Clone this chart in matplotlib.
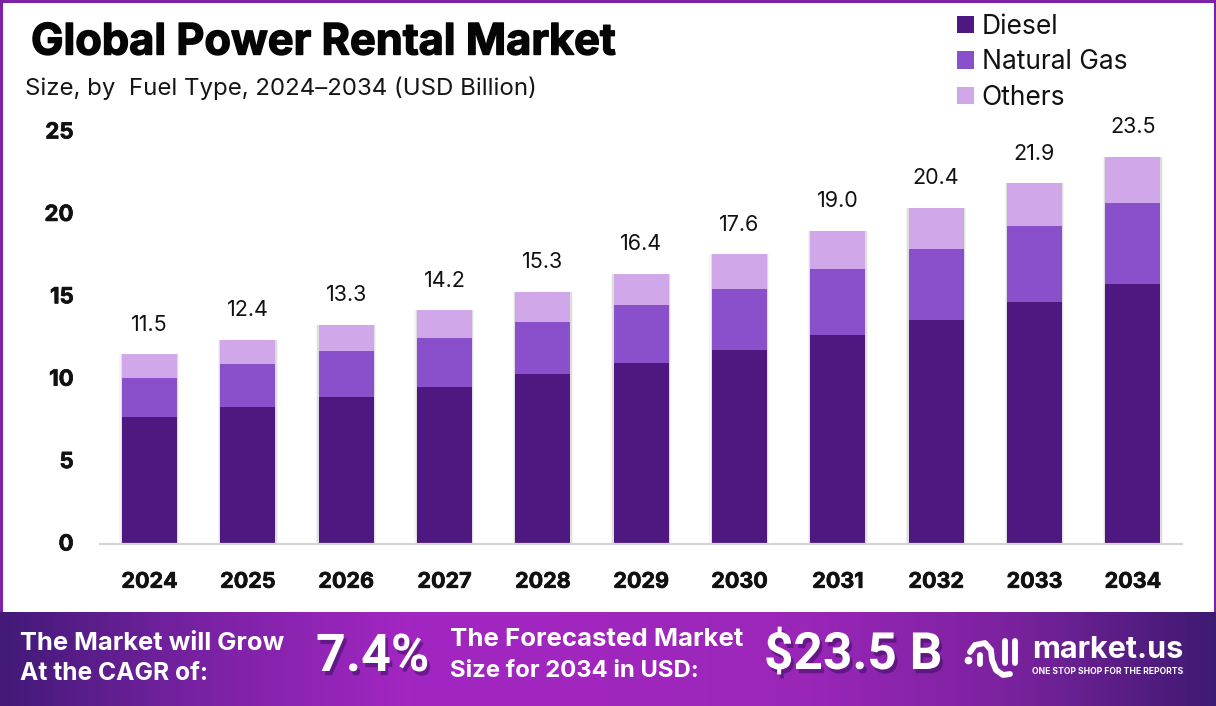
import numpy as np
import matplotlib
matplotlib.use('Agg')
import matplotlib.pyplot as plt
import matplotlib.patheffects as pe
from matplotlib.colors import LinearSegmentedColormap
from matplotlib.patches import Rectangle
from matplotlib.transforms import ScaledTranslation

years = ['2024', '2025', '2026', '2027', '2028', '2029', '2030', '2031', '2032', '2033', '2034']
totals = [11.5, 12.4, 13.3, 14.2, 15.3, 16.4, 17.6, 19.0, 20.4, 21.9, 23.5]
diesel = [7.7, 8.3, 8.9, 9.5, 10.3, 11.0, 11.8, 12.7, 13.6, 14.7, 15.8]
natural_gas = [2.4, 2.6, 2.8, 3.0, 3.2, 3.5, 3.7, 4.0, 4.3, 4.6, 4.9]
others = [1.4, 1.5, 1.6, 1.7, 1.8, 1.9, 2.1, 2.3, 2.5, 2.6, 2.8]
y_ticks = [0, 5, 10, 15, 20, 25]

W, H = 1216, 706
plt.rcParams['font.family'] = ['Inter', 'DejaVu Sans']

fig = plt.figure(figsize=(W / 100, H / 100), dpi=100, facecolor='white')

# stroke makes the bold text as heavy as the reference
heavy = [pe.withStroke(linewidth=0.5, foreground='#111111')]

# bar chart, axes placed in pixels
ax = fig.add_axes([100 / W, 1 - 544 / H, 1082 / W, 412 / H])
x = np.arange(len(years))
d = np.array(diesel)
n = np.array(natural_gas)
o = np.array(others)

# soft shadow on the bar sides
ax.bar(x, d + n + o, width=0.61, color='#000000', alpha=0.04, zorder=1)
ax.bar(x, d + n + o, width=0.585, color='#000000', alpha=0.09, zorder=1)
ax.bar(x, d, width=0.56, color='#4e1880', label='Diesel', zorder=2)
ax.bar(x, n, width=0.56, bottom=d, color='#8a50cb', label='Natural Gas', zorder=2)
ax.bar(x, o, width=0.56, bottom=d + n, color='#d0a8ea', label='Others', zorder=2)

for xi, top, t in zip(x, d + n + o, totals):
    ax.annotate(f'{t:.1f}', (xi, top), xytext=(0, 14), textcoords='offset points',
                ha='center', va='bottom', fontsize=15.5, color='#111111', annotation_clip=False)

ax.set_xlim(-0.503, 10.5)
ax.set_ylim(0, 25)
ax.set_xticks(x, years, fontsize=15.5, fontweight='bold', color='#111111')
ax.set_yticks(y_ticks, [str(v) for v in y_ticks], fontsize=16, fontweight='bold', color='#111111')
ax.tick_params(length=0)
ax.tick_params(axis='x', pad=20)
ax.tick_params(axis='y', pad=19)
for label in ax.get_xticklabels() + ax.get_yticklabels():
    label.set_path_effects(heavy)
for label in ax.get_yticklabels():
    label.set_transform(label.get_transform() + ScaledTranslation(0, 1.5 / 100, fig.dpi_scale_trans))
for s in ['top', 'right', 'left']:
    ax.spines[s].set_visible(False)
ax.spines['bottom'].set_color('#d4d4d4')
ax.spines['bottom'].set_linewidth(1.6)

handles, labels = ax.get_legend_handles_labels()
fig.legend(handles, labels, loc='upper left', bbox_to_anchor=(949 / W, 1 - 6 / H), frameon=False,
           fontsize=19, handlelength=0.64, handleheight=0.64, handletextpad=0.3,
           labelspacing=0.36, labelcolor='#111111', borderpad=0.3, borderaxespad=0)

# overlay in pixel coordinates for titles, frame and banner
ov = fig.add_axes([0, 0, 1, 1], zorder=5)
ov.set_xlim(0, W)
ov.set_ylim(H, 0)
ov.axis('off')
ov.patch.set_alpha(0)

ov.add_patch(Rectangle((1, 1), W - 2, H - 2, fill=False, ec='#7b22a6', lw=2.2))

title = ov.text(31, 43, 'Global Power Rental Market', fontsize=31.2, fontweight='bold', color='#050505', va='center')
title.set_path_effects([pe.withStroke(linewidth=1.0, foreground='#050505')])
ov.text(25, 88, 'Size, by  Fuel Type, 2024\u20132034 (USD Billion)', fontsize=17.3, color='#151515', va='center')

band = LinearSegmentedColormap.from_list('band', ['#431a78', '#7a22a4', '#a226c2', '#a026be', '#9a26b8', '#7a229e', '#3f1a72'])
ov.imshow(np.linspace(0, 1, 400).reshape(1, -1), cmap=band, extent=(0, W, 706, 612), aspect='auto', zorder=2)
ov.set_xlim(0, W)
ov.set_ylim(H, 0)


def banner_text(px, py, s, size, shade=False, family=None):
    t = ov.text(px, py, s, fontsize=size, fontweight='bold', color='white', va='center', zorder=4)
    if family:
        t.set_family(family)
    if shade:
        t.set_path_effects([pe.withSimplePatchShadow(offset=(2, -3), shadow_rgbFace='#2a0a50', alpha=0.45)])
    return t


banner_text(20, 643, 'The Market will Grow', 18.4)
banner_text(20, 674, 'At the CAGR of:', 17.7)
banner_text(316, 657, '7.4%', 37.5, shade=True, family='Roboto')
banner_text(450, 640, 'The Forecasted Market', 18.6)
banner_text(450, 671, 'Size for 2034 in USD:', 17.2)
banner_text(764, 655, '$23.5 B', 37, shade=True, family='Roboto')

# logo mark
for path_x, path_y in [
    ([970, 975, 985, 991, 992, 996, 1003, 1010], [652, 645, 643, 650, 660, 670, 675, 674]),
    ([980, 980], [655, 664]),
    ([1005, 1005], [641, 663]),
    ([1015, 1015], [641, 663]),
]:
    ov.plot(path_x, path_y, color='white', lw=4.2, solid_capstyle='round', solid_joinstyle='round', zorder=4)
ov.plot([968], [660], 'o', color='white', ms=4.5, zorder=4)
banner_text(1032, 650, 'market.us', 22)
banner_text(1032, 671, 'ONE STOP SHOP FOR THE REPORTS', 6.2)

fig.savefig('out.png', dpi=100, facecolor='white')
